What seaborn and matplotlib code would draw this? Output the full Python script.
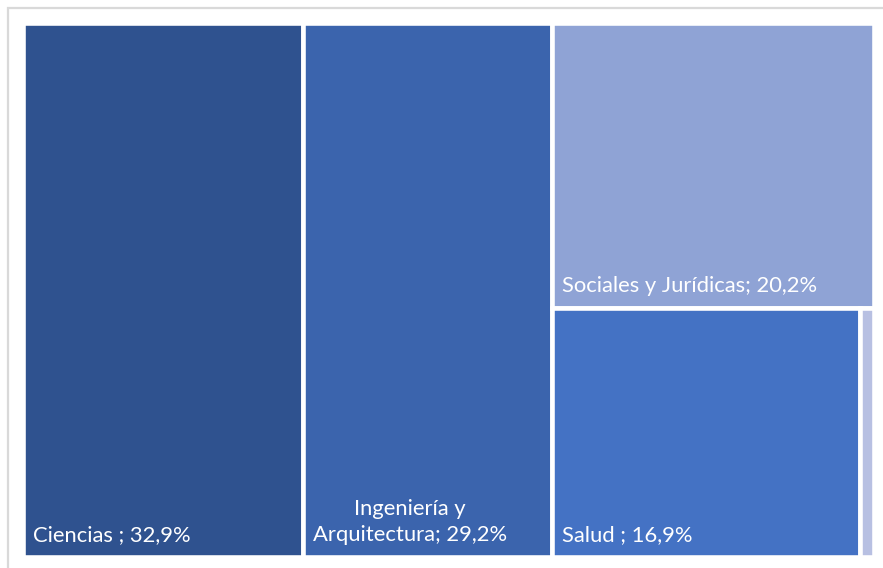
import matplotlib
matplotlib.use("Agg")
import matplotlib.pyplot as plt
from matplotlib.patches import Rectangle
import seaborn as sns

# Distribution by branch of knowledge (percent)
categories = ["Ciencias", "Ingeniería y\nArquitectura", "Sociales y Jurídicas", "Salud", "Artes y Humanidades"]
labels = ["Ciencias ; 32,9%", "Ingeniería y\nArquitectura; 29,2%", "Sociales y Jurídicas; 20,2%", "Salud ; 16,9%", None]
values = [32.9, 29.2, 20.2, 16.9, 0.8]
colors = ["#2F528F", "#3B64AD", "#8FA3D5", "#4472C4", "#B8C0E2"]

# Nested split tree: ("h", ...) splits left-to-right, ("v", ...) splits top-to-bottom
layout = ("h", 0, 1, ("v", 2, ("h", 3, 4)))

sns.set_theme(style="white")
plt.rcParams["font.family"] = ["Lato", "DejaVu Sans"]


def total(node):
    if isinstance(node, int):
        return values[node]
    return sum(total(n) for n in node[1:])


def place(node, x, y, w, h, out):
    if isinstance(node, int):
        out[node] = (x, y, w, h)
        return
    direction, children = node[0], node[1:]
    s = total(node)
    pos = x if direction == "h" else y
    for child in children:
        frac = total(child) / s
        if direction == "h":
            place(child, pos, y, w * frac, h, out)
            pos += w * frac
        else:
            place(child, x, pos, w, h * frac, out)
            pos += h * frac


rects = {}
place(layout, 0.0, 0.0, 1.0, 1.0, rects)

W, H = 883, 568
fig = plt.figure(figsize=(W / 100, H / 100), dpi=100)
fig.patch.set_facecolor("white")

# light chart frame
fig.patches.append(Rectangle((8 / W, -0.2), 1.2, 1.2 - 8 / H, transform=fig.transFigure,
                             fill=False, edgecolor="#D9D9D9", linewidth=1.6, zorder=0))

gap = 2.2  # px lost on outer edges to the white borders
left, right = 25 - gap, 872 + gap
top, bottom = 25 - gap, 555 + gap
ax = fig.add_axes([left / W, 1 - bottom / H, (right - left) / W, (bottom - top) / H])
ax.set_xlim(0, 1)
ax.set_ylim(1, 0)
ax.axis("off")

px_x = 1.0 / (right - left)
px_y = 1.0 / (bottom - top)

for i, (x, y, w, h) in rects.items():
    ax.add_patch(Rectangle((x, y), w, h, facecolor=colors[i], edgecolor="white",
                           linewidth=3.3, zorder=1))
    if labels[i]:
        ax.text(x + 10 * px_x, y + h - 12 * px_y, labels[i], color="white",
                fontsize=15.8, ha="left", va="bottom", multialignment="center", zorder=2,
                linespacing=1.38)

fig.savefig("out.png", dpi=100, facecolor="white")
